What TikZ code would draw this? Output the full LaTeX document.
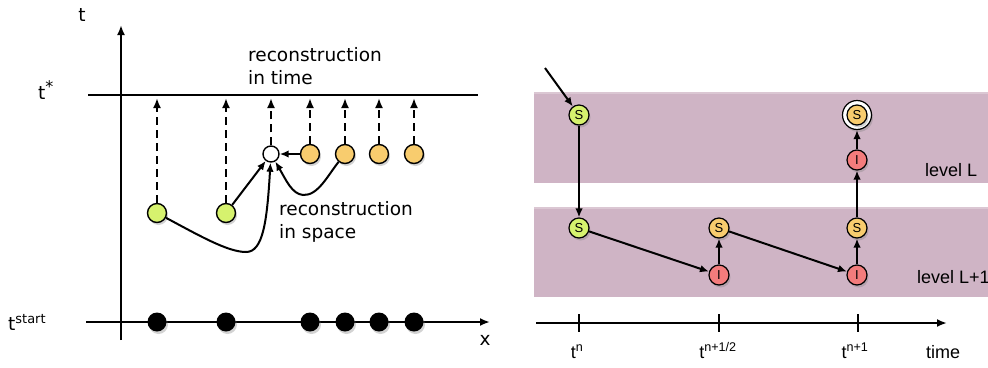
\documentclass[tikz,border=0pt]{standalone}
\usepackage{fontspec}
\setmainfont{DejaVu Sans}
\newfontfamily\hv{Liberation Sans}
\usetikzlibrary{arrows.meta,shadows}
\definecolor{cgreen}{RGB}{214,242,110}
\definecolor{corange}{RGB}{248,204,110}
\definecolor{cred}{RGB}{243,124,124}
\definecolor{cband}{RGB}{207,180,197}
\tikzset{
  lw/.style={line width=2pt},
  tip/.style={-{Latex[length=10pt,width=8pt]}},
  smalltip/.style={-{Latex[length=9pt,width=7.5pt]}},
  shd/.style={drop shadow={opacity=0.35,shadow xshift=1.5pt,shadow yshift=-2.5pt}},
  pt/.style={circle,draw,line width=1.4pt,minimum size=19pt,inner sep=0pt,shd},
  gpt/.style={pt,fill=cgreen},
  opt/.style={pt,fill=corange},
  wpt/.style={circle,draw,line width=1.4pt,fill=white,minimum size=16pt,inner sep=0pt},
  bpt/.style={circle,fill=black,minimum size=19pt,inner sep=0pt,shd},
  lab/.style={font=\fontsize{18.5}{23}\selectfont,inner sep=0pt},
  rlab/.style={font=\hv\fontsize{18}{22}\selectfont,inner sep=0pt},
  sn/.style={circle,draw,line width=1.2pt,minimum size=20pt,inner sep=0pt,font=\hv\fontsize{13}{13}\selectfont,shd},
  band/.style={fill=cband,draw=none},
  dsh/.style={lw,dash pattern=on 8pt off 5pt,tip},
}
\begin{document}
\begin{tikzpicture}[x=1pt,y=-1pt]
\useasboundingbox (0,0) rectangle (988,367);
% ---------- left diagram ----------
\coordinate (ybot) at (121,340);
\coordinate (ytop) at (121,25);
\coordinate (xl) at (86,322);
\coordinate (xr) at (490,322);
\coordinate (sl) at (88,94.5);
\coordinate (sr) at (478,94.5);
\draw[lw,tip] (ybot) -- (ytop);
\draw[lw,tip] (xl) -- (xr);
\draw[lw] (sl) -- (sr);
\node[lab] (tlab) at (82,15) {t};
\node[lab] (tslab) at (46,90) {t\textsuperscript{\fontsize{16}{16}\selectfont *}};
\node[lab] (xlab) at (485,340) {x};
\node[lab,anchor=base west] (tstart) at (8,330) {t\textsuperscript{start}};
\node[lab,anchor=west,align=left] (rt) at (248,66) {reconstruction\\in time};
\node[lab,anchor=west,align=left] (rs) at (279,222) {reconstruction\\in space};
% black dots
\foreach \i/\x in {1/157,2/226,3/310,4/345,5/379,6/414}
  \node[bpt] (b\i) at (\x,322) {};
% green points
\node[gpt] (g1) at (157,213) {};
\node[gpt] (g2) at (226,213) {};
\node[wpt] (w) at (271,154) {};
\node[opt] (o1) at (310,154) {};
\node[opt] (o2) at (345,154) {};
\node[opt] (o3) at (379,154) {};
\node[opt] (o4) at (414,154) {};
% dashed arrows
\foreach \n/\x in {g1/157,g2/226,w/271,o1/310,o2/345,o3/379,o4/414}{
  \coordinate (t\n) at (\x,98);
  \draw[dsh] (\n) -- (t\n);
}
\draw[lw,smalltip] (o1) -- (w);
\draw[lw,smalltip] (g2) -- (w);
\draw[lw,smalltip] (g1) .. controls (200,236) and (228,252) .. (246,252)
  .. controls (263,252) and (267,222) .. (w);
\draw[lw,smalltip] (o2) .. controls (328,175) and (318,196) .. (303,195)
  .. controls (292,194) and (286,180) .. (w);
% ---------- right diagram ----------
\fill[cband!75!white] (534,92) rectangle (988,94);
\fill[band] (534,94) rectangle (988,183);
\fill[cband!75!white] (534,207) rectangle (988,209);
\fill[band] (534,209) rectangle (988,297);
\node[rlab,anchor=west] (lvL) at (925,170) {level L};
\node[rlab,anchor=west] (lvL1) at (917,277) {level L+1};
% time axis
\coordinate (al) at (536,323);
\coordinate (ar) at (947,323);
\draw[lw,tip] (al) -- (ar);
\foreach \i/\x in {1/579,2/719,3/858}{
  \coordinate (tk\i a) at (\x,314);
  \coordinate (tk\i b) at (\x,332);
  \draw[lw] (tk\i a) -- (tk\i b);
}
\node[rlab,anchor=base] (tn) at (577,358) {t\textsuperscript{n}};
\node[rlab,anchor=base] (tnh) at (718,358) {t\textsuperscript{n+1/2}};
\node[rlab,anchor=base] (tn1) at (855,358) {t\textsuperscript{n+1}};
\node[rlab,anchor=base] (time) at (943,358) {time};
% nodes
\node[sn,fill=cgreen] (s1) at (579,115) {S};
\node[circle,draw,line width=1.2pt,fill=white,minimum size=29pt,shd] (s4ring) at (857,115) {};
\node[sn,fill=corange,drop shadow={opacity=0}] (s4) at (857,115) {S};
\node[sn,fill=cred] (i3) at (857,160) {I};
\node[sn,fill=cgreen] (s2) at (579,228) {S};
\node[sn,fill=corange] (s3) at (719,228) {S};
\node[sn,fill=cred] (i1) at (719,275) {I};
\node[sn,fill=corange] (s5) at (857,228) {S};
\node[sn,fill=cred] (i2) at (857,275) {I};
\coordinate (in) at (545,68);
\draw[lw,smalltip] (in) -- (s1);
\draw[lw,smalltip] (s1) -- (s2);
\draw[lw,smalltip] (s2) -- (i1);
\draw[lw,smalltip] (i1) -- (s3);
\draw[lw,smalltip] (s3) -- (i2);
\draw[lw,smalltip] (i2) -- (s5);
\draw[lw,smalltip] (s5) -- (i3);
\draw[lw,smalltip] (i3) -- (s4ring);
\end{tikzpicture}
\end{document}
